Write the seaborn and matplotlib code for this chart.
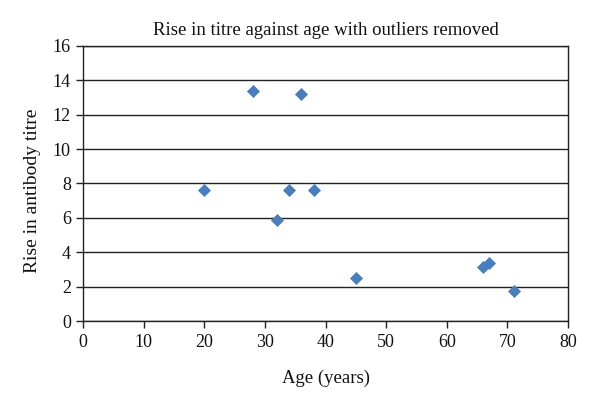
import pandas as pd
import matplotlib
matplotlib.use("Agg")
import matplotlib.pyplot as plt
import seaborn as sns

# Data
age = [20, 28, 36, 34, 38, 32, 45, 66, 67, 71]
rise = [7.65, 13.4, 13.2, 7.65, 7.65, 5.85, 2.48, 3.15, 3.35, 1.75]
x_ticks = [0, 10, 20, 30, 40, 50, 60, 70, 80]
y_ticks = [0, 2, 4, 6, 8, 10, 12, 14, 16]

df = pd.DataFrame({'Age': age, 'Rise': rise})

sns.set_theme(style="white")
plt.rcParams['font.family'] = ['Liberation Serif', 'DejaVu Serif']

fig = plt.figure(figsize=(6, 4.07), dpi=100)
ax = fig.add_axes([0.1388, 0.2113, 0.808, 0.6757])

sns.scatterplot(data=df, x='Age', y='Rise', ax=ax, marker='D', s=38,
                color='#4A7EBB', edgecolor='#4A7EBB', linewidth=0.5, zorder=3)

ax.set_xlim(0, 80)
ax.set_ylim(0, 16)
ax.set_xticks(x_ticks)
ax.set_yticks(y_ticks)
ax.yaxis.grid(True, color='#222222', linewidth=1.0)
ax.set_axisbelow(True)

for side in ['left', 'bottom', 'top', 'right']:
    ax.spines[side].set_visible(True)
    ax.spines[side].set_color('#222222')
    ax.spines[side].set_linewidth(1.0)

ax.tick_params(axis='both', direction='out', length=5, width=1, color='#222222',
               labelsize=13, labelcolor='#111111', bottom=True, left=True, pad=4)

ax.set_title('Rise in titre against age with outliers removed', fontsize=13.5,
             color='#111111', pad=8)
ax.set_xlabel('Age (years)', fontsize=13.5, color='#111111', labelpad=14)
ax.set_ylabel('Rise in antibody titre', fontsize=14, color='#111111')
ax.yaxis.set_label_coords(-0.088, 0.475)

plt.savefig('out.png', dpi=100)
